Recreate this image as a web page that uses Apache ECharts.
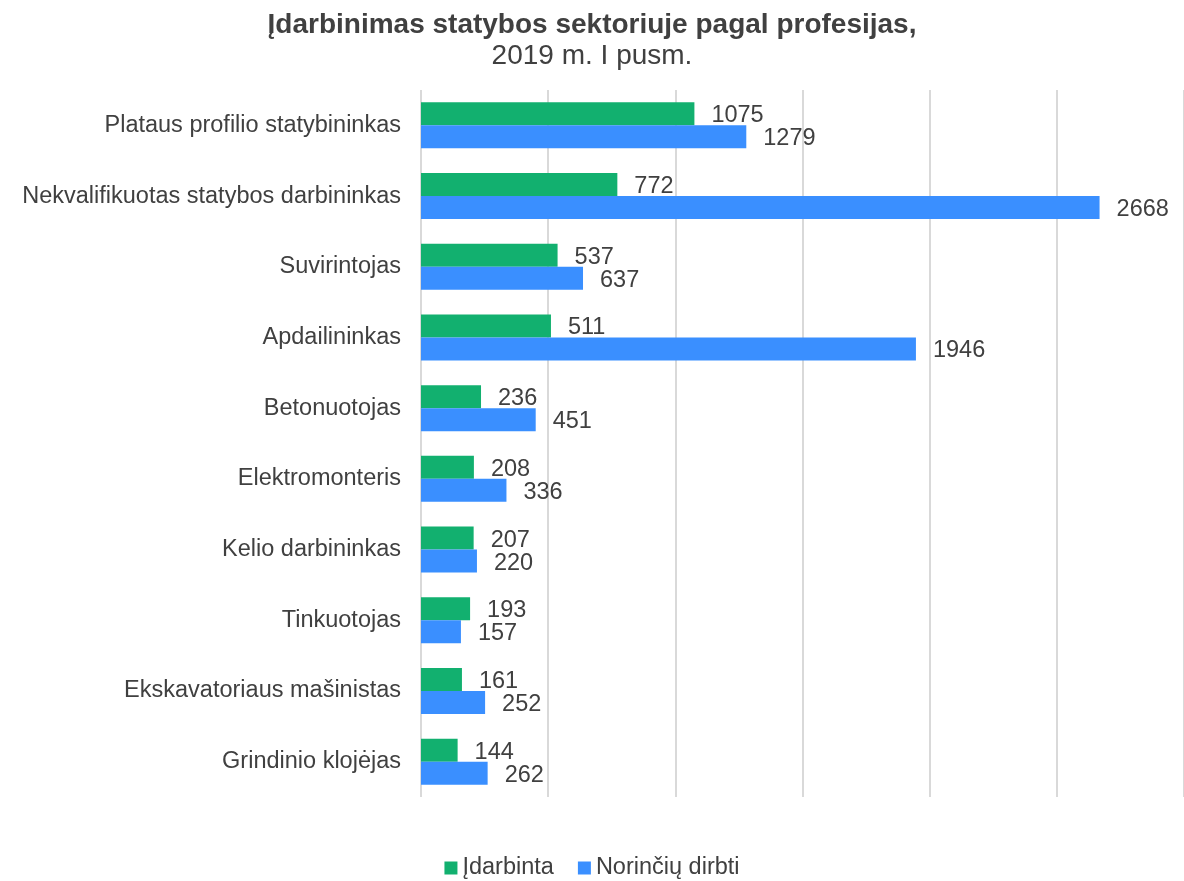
<!DOCTYPE html>
<html>
<head>
<meta charset="utf-8">
<script src="https://cdn.jsdelivr.net/npm/echarts@6/dist/echarts.min.js"></script>
<style>
  html, body { margin: 0; padding: 0; background: #fff; }
  #chart { width: 1184px; height: 881px; }
</style>
</head>
<body>
<div id="chart"></div>
<script>
// profesijos (iš viršaus į apačią)
var categories = [
    "Plataus profilio statybininkas",
    "Nekvalifikuotas statybos darbininkas",
    "Suvirintojas",
    "Apdailininkas",
    "Betonuotojas",
    "Elektromonteris",
    "Kelio darbininkas",
    "Tinkuotojas",
    "Ekskavatoriaus mašinistas",
    "Grindinio klojėjas"
];
var idarbinta = [1075, 772, 537, 511, 236, 208, 207, 193, 161, 144];
var norinciu_dirbti = [1279, 2668, 637, 1946, 451, 336, 220, 157, 252, 262];
var series_names = ["Įdarbinta", "Norinčių dirbti"];

var FONT = "Liberation Sans, Arial, sans-serif";
var TEXT_COLOR = "#404040";
var FS = 23.5;

var myChart = echarts.init(document.getElementById("chart"));

var label_style = {
    show: true,
    position: "right",
    distance: 17,
    offset: [0, 2],
    color: TEXT_COLOR,
    fontSize: FS,
    fontFamily: FONT
};

var option = {
    animation: false,
    title: {
        text: "Įdarbinimas statybos sektoriuje pagal profesijas,",
        subtext: "2019 m. I pusm.",
        left: "center",
        top: 6,
        itemGap: 3,
        textStyle: {
            fontSize: 28,
            fontWeight: "bold",
            color: TEXT_COLOR,
            fontFamily: FONT
        },
        subtextStyle: {
            fontSize: 28,
            color: TEXT_COLOR,
            fontFamily: FONT
        }
    },
    legend: {
        data: series_names,
        bottom: -4,
        left: "center",
        icon: "rect",
        itemWidth: 13,
        itemHeight: 13,
        itemGap: 24,
        textStyle: {
            fontSize: FS,
            color: TEXT_COLOR,
            fontFamily: FONT
        }
    },
    grid: {
        left: 421,
        right: -2,
        top: 90,
        bottom: 84,
        containLabel: false
    },
    xAxis: {
        type: "value",
        min: 0,
        max: 3000,
        interval: 500,
        axisLabel: { show: false },
        axisLine: { show: false },
        axisTick: { show: false },
        splitLine: {
            show: true,
            lineStyle: { color: "#d9d9d9", width: 2 }
        }
    },
    yAxis: {
        type: "category",
        data: categories,
        inverse: true,
        axisLine: { show: false },
        axisTick: { show: false },
        axisLabel: {
            margin: 20,
            padding: [5, 0, 0, 0],
            fontSize: FS,
            color: TEXT_COLOR,
            fontFamily: FONT
        }
    },
    series: [
        {
            name: series_names[0],
            type: "bar",
            data: idarbinta,
            barWidth: 23,
            barGap: "0%",
            itemStyle: { color: "#12b06f" },
            label: label_style
        },
        {
            name: series_names[1],
            type: "bar",
            data: norinciu_dirbti,
            barWidth: 23,
            barGap: "0%",
            itemStyle: { color: "#3a8fff" },
            label: label_style
        }
    ]
};

myChart.setOption(option);
</script>
</body>
</html>
